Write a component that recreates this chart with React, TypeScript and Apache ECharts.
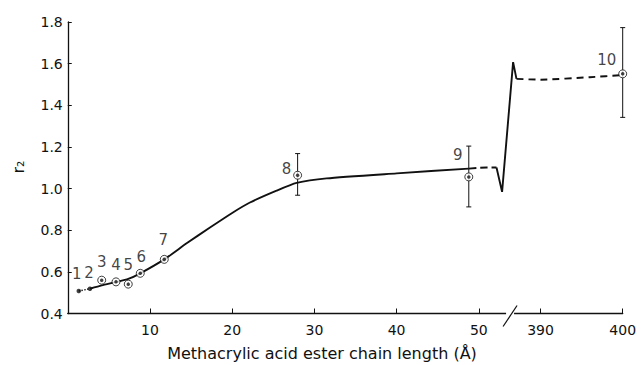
import React, { useEffect, useRef } from "react";
import * as echarts from "echarts";

// ---- data (x in Å, y = r2) ----
const pointIds = ["1", "2", "3", "4", "5", "6", "7", "8", "9", "10"];
const pointX = [1.34, 2.7, 4.13, 5.87, 7.36, 8.82, 11.74, 27.96, 48.78, 400];
const pointY = [0.508, 0.519, 0.56, 0.552, 0.541, 0.593, 0.66, 1.064, 1.056, 1.551];
const circled = [false, false, true, true, true, true, true, true, true, true];

const errorX = [27.96, 48.78, 400];
const errorLow = [0.968, 0.912, 1.342];
const errorHigh = [1.168, 1.204, 1.773];

// fitted curve pieces
const dottedStart: [number, number][] = [[1.34, 0.508], [2.7, 0.519]];
const solidCurve: [number, number][] = [
  [2.7, 0.519], [4.13, 0.535], [5.87, 0.551], [7.36, 0.566], [8.82, 0.593],
  [11.74, 0.66], [14.46, 0.737], [17.3, 0.813], [20.0, 0.883], [22.16, 0.933],
  [25.4, 0.99], [27.84, 1.027], [31.48, 1.049], [40.0, 1.073], [48.78, 1.096],
];
const dashedMid: [number, number][] = [[48.78, 1.096], [50.94, 1.101], [52.15, 1.101]];
const zigzag: [number, number][] = [[52.15, 1.101], [52.83, 0.984], [386.67, 1.607], [387.08, 1.527]];
const dashedEnd: [number, number][] = [[387.08, 1.527], [390, 1.523], [396, 1.535], [400, 1.545]];

const xTickValues = [10, 20, 30, 40, 50, 390, 400];
const BREAK_VALUE = 53.8;

const xTitle = "Methacrylic acid ester chain length (Å)";
const yTitle = "r₂";

// ---- axis break transform ----
const X_SHIFT = 332.5;
const toPlot = (v: number) => (v > 200 ? v - X_SHIFT : v);
const toReal = (v: number) => (v > 54 ? v + X_SHIFT : v);
const mapPts = (arr: [number, number][]) => arr.map(([x, y]) => [toPlot(x), y]);

const labelOffsets: [number, number][] = [
  [-2, -17], [-1, -16], [0, -18], [0, -17], [0, -19], [1, -16], [-1, -19], [-11, -6], [-11, -22], [-16, -14],
];

const FONT = "DejaVu Sans";
const INK = "#111";

export default function App() {
  const ref = useRef<HTMLDivElement>(null);
  useEffect(() => {
    if (!ref.current) return;
    const chart = echarts.init(ref.current, null, { renderer: "svg" });
    const lineBase = (name: string, data: any[], type: any, width = 1.9, smooth: number | boolean = 0.2) => ({
      name,
      type: "line",
      data,
      showSymbol: false,
      symbol: "none",
      silent: true,
      smooth,
      lineStyle: { color: INK, width, type },
      z: 2,
    });
    const option: any = {
      animation: false,
      grid: { left: 67.75, right: 20.3, top: 22, bottom: 51.5, containLabel: false },
      xAxis: {
        type: "value",
        min: 0,
        max: toPlot(400),
        splitLine: { show: false },
        axisLine: { lineStyle: { color: INK, width: 1.3 } },
        axisTick: { inside: true, length: 5, lineStyle: { color: INK }, customValues: xTickValues.map(toPlot) },
        axisLabel: {
          customValues: xTickValues.map(toPlot),
          formatter: (v: number) => String(Math.round(toReal(v))),
          color: INK,
          fontFamily: FONT,
          fontSize: 14,
          margin: 9,
        },
      },
      yAxis: {
        type: "value",
        min: 0.4,
        max: 1.8,
        interval: 0.2,
        splitLine: { show: false },
        axisLine: { show: true, lineStyle: { color: INK, width: 1.3 } },
        axisTick: { inside: true, length: 4, lineStyle: { color: INK } },
        axisLabel: {
          formatter: (v: number) => v.toFixed(1),
          color: INK,
          fontFamily: FONT,
          fontSize: 14,
          margin: 5,
        },
      },
      series: [
        lineBase("dotted", mapPts(dottedStart), "dotted", 1.4),
        lineBase("fit", mapPts(solidCurve), "solid"),
        lineBase("dashedMid", mapPts(dashedMid), "dashed"),
        lineBase("zigzag", mapPts(zigzag), "solid", 1.9, false),
        lineBase("dashedEnd", mapPts(dashedEnd), [7, 5]),
        {
          name: "error",
          type: "custom",
          silent: true,
          z: 3,
          data: errorX.map((x, i) => [toPlot(x), errorLow[i], errorHigh[i]]),
          renderItem: (params: any, api: any) => {
            const x = api.value(0);
            const lo = api.coord([x, api.value(1)]);
            const hi = api.coord([x, api.value(2)]);
            const cap = 2.5;
            const st = { stroke: INK, lineWidth: 1 };
            return {
              type: "group",
              children: [
                { type: "line", shape: { x1: lo[0], y1: lo[1], x2: hi[0], y2: hi[1] }, style: st },
                { type: "line", shape: { x1: lo[0] - cap, y1: lo[1], x2: lo[0] + cap, y2: lo[1] }, style: st },
                { type: "line", shape: { x1: hi[0] - cap, y1: hi[1], x2: hi[0] + cap, y2: hi[1] }, style: st },
              ],
            };
          },
        },
        {
          name: "ring",
          type: "scatter",
          silent: true,
          z: 4,
          symbol: "circle",
          symbolSize: 8,
          itemStyle: { color: "#fff", borderColor: INK, borderWidth: 1 },
          data: pointX.map((x, i) => (circled[i] ? [toPlot(x), pointY[i]] : null)).filter(Boolean),
        },
        {
          name: "points",
          type: "scatter",
          silent: true,
          z: 5,
          symbol: "circle",
          itemStyle: { color: INK },
          data: pointX.map((x, i) => ({
            value: [toPlot(x), pointY[i]],
            symbolSize: circled[i] ? 3.5 : 4.5,
            label: {
              show: true,
              formatter: pointIds[i],
              position: "inside",
              offset: labelOffsets[i],
              color: INK,
              fontFamily: FONT,
              fontSize: 15,
            },
          })),
        },
      ],
      graphic: [
        {
          type: "text",
          x: 322,
          y: 353,
          style: {
            text: xTitle,
            fill: INK,
            font: `16px '${FONT}'`,
            textAlign: "center",
            textVerticalAlign: "middle",
          },
        },
        {
          type: "text",
          x: 18,
          y: 167,
          rotation: Math.PI / 2,
          style: {
            text: yTitle,
            fill: INK,
            font: `16px '${FONT}'`,
            textAlign: "center",
            textVerticalAlign: "middle",
          },
        },
      ],
    };
    chart.setOption(option);
    const p = chart.convertToPixel({ gridIndex: 0 }, [toPlot(BREAK_VALUE), 0.4]) as number[];
    if (p) {
      chart.setOption({
        graphic: [
          option.graphic[0],
          option.graphic[1],
          {
            type: "rect",
            shape: { x: p[0] - 4, y: p[1] - 2, width: 8, height: 4 },
            style: { fill: "#fff" },
            z: 10,
          },
          {
            type: "line",
            shape: { x1: p[0] - 7, y1: p[1] + 13, x2: p[0] + 7, y2: p[1] - 8 },
            style: { stroke: INK, lineWidth: 1.2 },
            z: 11,
          },
        ],
      });
    }
    return () => chart.dispose();
  }, []);
  return (
    <div
      ref={ref}
      style={{ position: "fixed", left: 0, top: 0, width: 643, height: 365, background: "#fff" }}
    />
  );
}
